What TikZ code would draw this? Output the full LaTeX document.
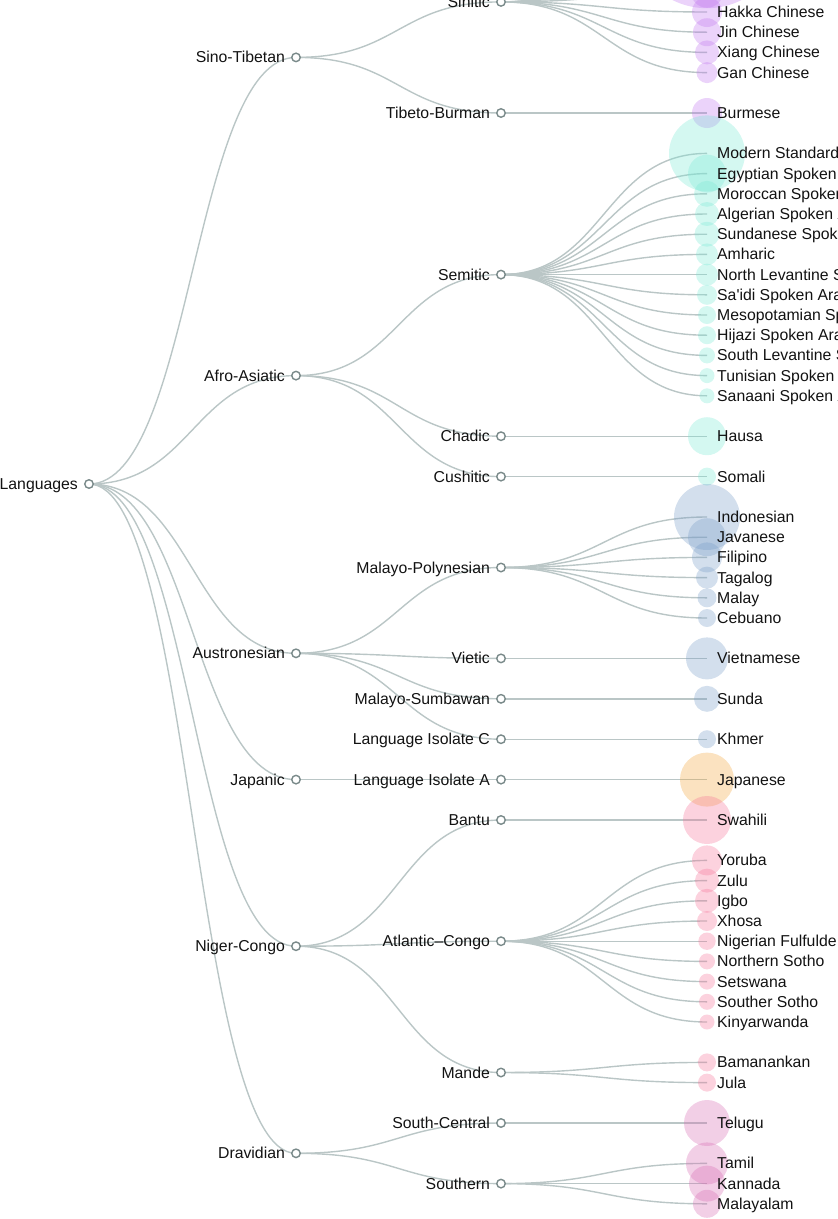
\documentclass[tikz,border=0pt]{standalone}
\usepackage{fontspec}
\setmainfont{Liberation Sans}
\usepackage{xcolor}
\usepackage{tikz}
\usetikzlibrary{backgrounds}

\definecolor{linkgray}{RGB}{186,198,198}
\definecolor{dotgray}{RGB}{122,138,138}
\definecolor{labelblack}{RGB}{18,18,18}
\definecolor{stfill}{RGB}{192,118,238}
\definecolor{aafill}{RGB}{122,232,212}
\definecolor{anfill}{RGB}{118,155,198}
\definecolor{jpfill}{RGB}{242,165,58}
\definecolor{ncfill}{RGB}{245,115,152}
\definecolor{drfill}{RGB}{215,105,178}

\tikzset{
  link/.style={draw=linkgray, line width=1.4pt},
  dot/.style={circle, draw=dotgray, fill=white, line width=1.4pt, minimum size=8.5pt, inner sep=0pt},
  langtext/.style={text=labelblack, font=\fontsize{15.8}{18}\selectfont, inner sep=0pt, text height=11pt, text depth=0pt},
  bubble/.style={circle, fill=#1, fill opacity=0.32, inner sep=0pt},
}

\def\hiddenleaves{mandarin/-68.8/77, yue/-48.6/21, wu/-28.4/21, minnan/-8.2/16}
\def\leaflist{%
  hakka/12/15/stfill/sinitic/Hakka Chinese,
  jin/32.2/14/stfill/sinitic/Jin Chinese,
  xiang/52.4/12/stfill/sinitic/Xiang Chinese,
  gan/72.6/10.5/stfill/sinitic/Gan Chinese,
  burmese/113/15/stfill/tibetoburman/Burmese,
  msa/153.4/38/aafill/semitic/Modern Standard Arabic,
  egyptian/173.6/19/aafill/semitic/Egyptian Spoken Arabic,
  moroccan/193.8/13/aafill/semitic/Moroccan Spoken Arabic,
  algerian/214/12/aafill/semitic/Algerian Spoken Arabic,
  sundanese/234.2/12.5/aafill/semitic/Sundanese Spoken Arabic,
  amharic/254.4/11/aafill/semitic/Amharic,
  northlev/274.6/11/aafill/semitic/North Levantine Spoken Arabic,
  saidi/294.8/10/aafill/semitic/Sa\textquotesingle idi Spoken Arabic,
  mesopotamian/315/9/aafill/semitic/Mesopotamian Spoken Arabic,
  hijazi/335.2/9/aafill/semitic/Hijazi Spoken Arabic,
  southlev/355.4/8/aafill/semitic/South Levantine Spoken Arabic,
  tunisian/375.6/7.5/aafill/semitic/Tunisian Spoken Arabic,
  sanaani/395.8/7.5/aafill/semitic/Sanaani Spoken Arabic,
  hausa/436.2/19/aafill/chadic/Hausa,
  somali/476.6/9/aafill/cushitic/Somali,
  indonesian/517/33/anfill/malayopolynesian/Indonesian,
  javanese/537.2/19/anfill/malayopolynesian/Javanese,
  filipino/557.4/15/anfill/malayopolynesian/Filipino,
  tagalog/577.6/11/anfill/malayopolynesian/Tagalog,
  malay/597.8/9.5/anfill/malayopolynesian/Malay,
  cebuano/618/9/anfill/malayopolynesian/Cebuano,
  vietnamese/658.4/21/anfill/vietic/Vietnamese,
  sunda/698.8/13/anfill/malayosumbawan/Sunda,
  khmer/739.2/9/anfill/isolatec/Khmer,
  japanese/779.6/27/jpfill/isolatea/Japanese,
  swahili/820/24/ncfill/bantu/Swahili,
  yoruba/860.4/15/ncfill/atlanticcongo/Yoruba,
  zulu/880.6/12/ncfill/atlanticcongo/Zulu,
  igbo/900.8/12/ncfill/atlanticcongo/Igbo,
  xhosa/921/10/ncfill/atlanticcongo/Xhosa,
  fulfulde/941.2/8.7/ncfill/atlanticcongo/Nigerian Fulfulde,
  northsotho/961.4/8/ncfill/atlanticcongo/Northern Sotho,
  setswana/981.6/8/ncfill/atlanticcongo/Setswana,
  southsotho/1001.8/8/ncfill/atlanticcongo/Souther Sotho,
  kinyarwanda/1022/7.5/ncfill/atlanticcongo/Kinyarwanda,
  bamanankan/1062.4/9/ncfill/mande/Bamanankan,
  jula/1082.6/9/ncfill/mande/Jula,
  telugu/1123/23/drfill/southcentral/Telugu,
  tamil/1163.4/21/drfill/southern/Tamil,
  kannada/1183.6/18/drfill/southern/Kannada,
  malayalam/1203.8/14/drfill/southern/Malayalam}

\begin{document}
\begin{tikzpicture}[x=1pt,y=-1pt]
  \useasboundingbox (0,0) rectangle (838,1219);
  \clip (0,0) rectangle (838,1219);
  %
  \node[dot, label={[langtext, label distance=6pt]left:Languages}] (languages) at (89,484) {};
  %
  \node[dot, label={[langtext, label distance=6pt]left:Sino-Tibetan}] (sinotibetan) at (296,57.4) {};
  \node[dot, label={[langtext, label distance=6pt]left:Afro-Asiatic}] (afroasiatic) at (296,375.6) {};
  \node[dot, label={[langtext, label distance=6pt]left:Austronesian}] (austronesian) at (296,653.3) {};
  \node[dot, label={[langtext, label distance=6pt]left:Japanic}] (japanic) at (296,779.6) {};
  \node[dot, label={[langtext, label distance=6pt]left:Niger-Congo}] (nigercongo) at (296,946.2) {};
  \node[dot, label={[langtext, label distance=6pt]left:Dravidian}] (dravidian) at (296,1153.3) {};
  %
  \node[dot, label={[langtext, label distance=6pt]left:Sinitic}] (sinitic) at (501,1.9) {};
  \node[dot, label={[langtext, label distance=6pt]left:Tibeto-Burman}] (tibetoburman) at (501,113) {};
  \node[dot, label={[langtext, label distance=6pt]left:Semitic}] (semitic) at (501,274.6) {};
  \node[dot, label={[langtext, label distance=6pt]left:Chadic}] (chadic) at (501,436.2) {};
  \node[dot, label={[langtext, label distance=6pt]left:Cushitic}] (cushitic) at (501,476.6) {};
  \node[dot, label={[langtext, label distance=6pt]left:Malayo-Polynesian}] (malayopolynesian) at (501,567.5) {};
  \node[dot, label={[langtext, label distance=6pt]left:Vietic}] (vietic) at (501,658.4) {};
  \node[dot, label={[langtext, label distance=6pt]left:Malayo-Sumbawan}] (malayosumbawan) at (501,698.8) {};
  \node[dot, label={[langtext, label distance=6pt]left:Language Isolate C}] (isolatec) at (501,739.2) {};
  \node[dot, label={[langtext, label distance=6pt]left:Language Isolate A}] (isolatea) at (501,779.6) {};
  \node[dot, label={[langtext, label distance=6pt]left:Bantu}] (bantu) at (501,820) {};
  \node[dot, label={[langtext, label distance=6pt]left:Atlantic--Congo}] (atlanticcongo) at (501,941.2) {};
  \node[dot, label={[langtext, label distance=6pt]left:Mande}] (mande) at (501,1072.5) {};
  \node[dot, label={[langtext, label distance=6pt]left:South-Central}] (southcentral) at (501,1123) {};
  \node[dot, label={[langtext, label distance=6pt]left:Southern}] (southern) at (501,1183.6) {};
  %
  % speaker circles, then the names over them
  \foreach \leaf/\y/\rad in \hiddenleaves
    \node[bubble=stfill, minimum size=2*\rad] (\leaf) at (707,\y) {};
  \foreach \leaf/\y/\rad/\col/\parent/\txt in \leaflist
    \node[bubble=\col, minimum size=2*\rad] (\leaf) at (707,\y) {};
  \foreach \leaf/\y/\rad/\col/\parent/\txt in \leaflist
    \node[langtext, anchor=west] (\leaf-txt) at ([xshift=10pt]\leaf.center) {\txt};
  %
  \begin{scope}[on background layer]
    \clip (0,0) rectangle (838,1219);
    \foreach \a/\b in {languages/sinotibetan, languages/afroasiatic, languages/austronesian,
        languages/japanic, languages/nigercongo, languages/dravidian,
        sinotibetan/sinitic, sinotibetan/tibetoburman, afroasiatic/semitic, afroasiatic/chadic,
        afroasiatic/cushitic, austronesian/malayopolynesian, austronesian/vietic,
        austronesian/malayosumbawan, austronesian/isolatec, japanic/isolatea,
        nigercongo/bantu, nigercongo/atlanticcongo, nigercongo/mande,
        dravidian/southcentral, dravidian/southern}
      \draw[link] (\a.center) .. controls +(103.5,0) and +(-103.5,0) .. (\b.center);
    \foreach \leaf/\y/\rad in \hiddenleaves
      \draw[link] (sinitic.center) .. controls +(103,0) and +(-103,0) .. (\leaf.center);
    \foreach \leaf/\y/\rad/\col/\parent/\txt in \leaflist
      \draw[link] (\parent.center) .. controls +(103,0) and +(-103,0) .. (\leaf.center);
  \end{scope}
\end{tikzpicture}
\end{document}
